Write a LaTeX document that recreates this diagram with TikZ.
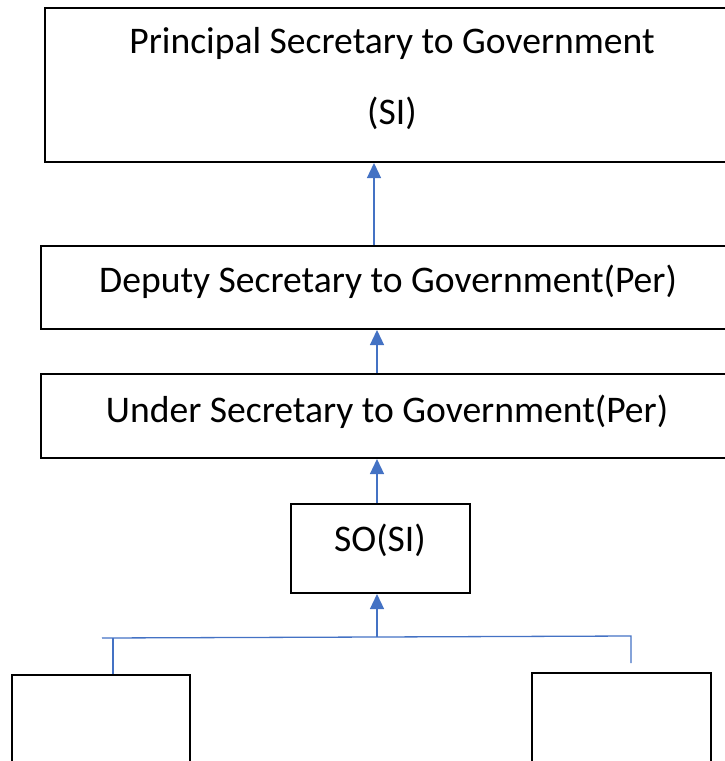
\documentclass[tikz,border=0pt]{standalone}
\usepackage{fontspec}
\setmainfont{Carlito}
\usetikzlibrary{arrows.meta}
\definecolor{linkblue}{HTML}{4472C4}
\tikzset{
  box/.style={draw=black, line width=2.4pt},
  lbl/.style={font=\fontsize{37.6}{44}\selectfont, inner sep=0pt, anchor=center},
  link/.style={draw=linkblue, line width=1.3pt},
  arr/.style={link, -{Triangle[length=15pt,width=14pt]}}
}
\begin{document}
\begin{tikzpicture}[x=1pt,y=-1pt]
\useasboundingbox (0,0) rectangle (725,761);
\clip (0,0) rectangle (725,761);
% boxes
\draw[box] (45,8) rectangle (740,162);
\draw[box] (41,246) rectangle (740,329);
\draw[box] (41,374) rectangle (740,458);
\draw[box] (291,504) rectangle (470,593);
\draw[box] (12,675) rectangle (190,780);
\draw[box] (532,673) rectangle (711,780);
% labels
\node[lbl] (t1) at (392,43) {Principal Secretary to Government};
\node[lbl] (t1b) at (392,113) {(SI)};
\node[lbl] (t2) at (388,282) {Deputy Secretary to Government(Per)};
\node[lbl] (t3) at (387,412) {Under Secretary to Government(Per)};
\node[lbl] (t4) at (380,540) {SO(SI)};
% anchor coordinates
\coordinate (b1s) at (374,163);
\coordinate (b2n) at (374,245);
\coordinate (b2s) at (377,330);
\coordinate (b3n) at (377,373);
\coordinate (b3s) at (377,459);
\coordinate (b4n) at (377,503);
\coordinate (b4s) at (377,594);
\coordinate (j) at (377,637);
\coordinate (hl) at (102,638);
\coordinate (hr) at (631,636);
\coordinate (ld) at (113,638);
\coordinate (lb) at (113,674);
\coordinate (rd) at (631,663);
% connectors
\draw[arr] (b2n) -- (b1s);
\draw[arr] (b3n) -- (b2s);
\draw[arr] (b4n) -- (b3s);
\draw[arr] (j) -- (b4s);
\draw[link] (hl) -- (j) -- (hr) -- (rd);
\draw[link] (ld) -- (lb);
\end{tikzpicture}
\end{document}
